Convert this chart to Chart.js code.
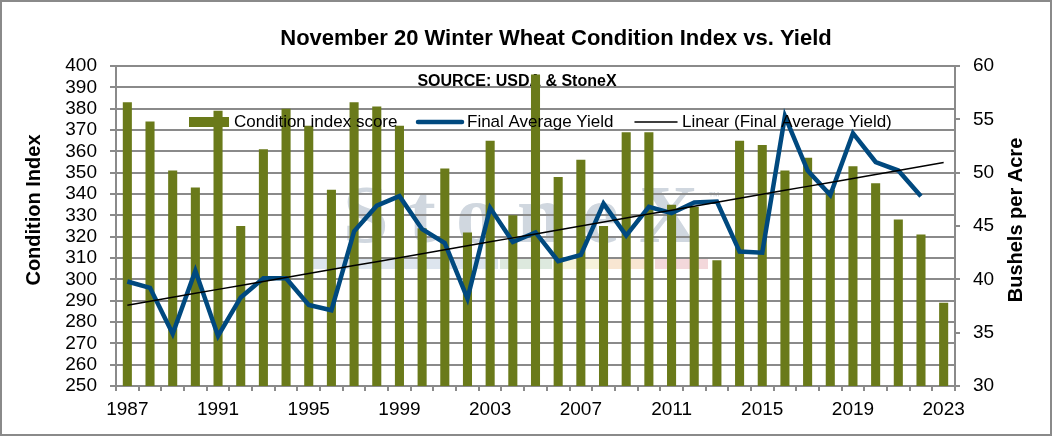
<!DOCTYPE html>
<html>
<head>
<meta charset="utf-8">
<title>Winter Wheat Condition Index vs. Yield</title>
<script src="https://cdn.jsdelivr.net/npm/chart.js@4.4.1/dist/chart.umd.min.js"></script>
<style>
  html, body { margin: 0; padding: 0; background: #fff; }
  #wrap { width: 1052px; height: 436px; }
</style>
</head>
<body>
<div id="wrap"><canvas id="chartcanvas"></canvas></div>
<script>
var categories = ["1987", "1988", "1989", "1990", "1991", "1992", "1993", "1994", "1995", "1996",
    "1997", "1998", "1999", "2000", "2001", "2002", "2003", "2004", "2005", "2006",
    "2007", "2008", "2009", "2010", "2011", "2012", "2013", "2014", "2015", "2016",
    "2017", "2018", "2019", "2020", "2021", "2022", "2023"];

// November 20 condition index score (left axis)
var conditionIndex = [383, 374, 351, 343, 379, 325, 361, 380, 372, 342,
    383, 381, 372, 324, 352, 322, 365, 330, 396, 348,
    356, 325, 369, 369, 335, 334, 309, 365, 363, 351,
    357, 342, 353, 345, 328, 321, 289];

// final average yield, bushels per acre (right axis), 2023 not known yet
var finalYield = [39.8, 39.2, 34.9, 40.8, 34.7, 38.3, 40.1, 40.1, 37.6, 37.1,
    44.5, 46.9, 47.8, 44.7, 43.4, 38.2, 46.7, 43.5, 44.4, 41.7,
    42.3, 47.1, 44.1, 46.8, 46.2, 47.2, 47.3, 42.6, 42.5, 55.3,
    50.2, 47.9, 53.7, 51.0, 50.2, 47.8, null];

var leftTicks = { min: 250, max: 400, step: 10 };
var rightTicks = { min: 30, max: 60, step: 5 };

var FONT = "'Liberation Sans', Arial, sans-serif";
var GRID = "#8a8a8a";
var BAR = "#6a7a1a";
var LINE = "#00497f";

// least squares fit of the yield, carried out to every category (Excel "Linear" trendline)
function linearTrend(values) {
    var n = 0, sx = 0, sy = 0, sxx = 0, sxy = 0;
    values.forEach(function (v, i) {
        if (v === null) return;
        n++; sx += i; sy += v; sxx += i * i; sxy += i * v;
    });
    var slope = (n * sxy - sx * sy) / (n * sxx - sx * sx);
    var icpt = (sy - slope * sx) / n;
    return values.map(function (v, i) { return +(icpt + slope * i).toFixed(3); });
}
var trendYield = linearTrend(finalYield);

var legendItems = [
    { text: "Condition index score", kind: "box", color: BAR, x: 189, w: 40 },
    { text: "Final Average Yield", kind: "line", color: LINE, lw: 4.5, x: 418, w: 44 },
    { text: "Linear (Final Average Yield)", kind: "line", color: "#000", lw: 1.5, x: 635, w: 42 }
];

var decorations = {
    id: "decorations",
    beforeDraw: function (chart) {
        var ctx = chart.ctx;
        ctx.save();
        ctx.fillStyle = "#fff";
        ctx.fillRect(0, 0, chart.width, chart.height);

        // faint StoneX watermark behind the plot
        ctx.fillStyle = "#d0d7df";
        ctx.font = "bold 82px 'Liberation Serif', 'DejaVu Serif', serif";
        ctx.textBaseline = "alphabetic";
        var word = "StoneX", x = 343, gap = 20;
        for (var i = 0; i < word.length; i++) {
            ctx.fillText(word[i], x, 242);
            x += ctx.measureText(word[i]).width + gap;
        }
        ctx.font = "12px " + FONT;
        ctx.fillText("\u2122", 708, 200);
        var stripe = [["#dde5ee", 305, 498], ["#dde9de", 500, 552], ["#f6f2da", 554, 606],
            ["#f8e6d2", 608, 653], ["#f3d8db", 655, 708]];
        stripe.forEach(function (s) {
            ctx.fillStyle = s[0];
            ctx.fillRect(s[1], 259, s[2] - s[1], 10);
        });
        ctx.restore();
    },
    beforeDatasetsDraw: function (chart) {
        var ctx = chart.ctx;
        ctx.save();
        ctx.fillStyle = "#000";
        ctx.font = "bold 16px " + FONT;
        ctx.textAlign = "center";
        ctx.textBaseline = "middle";
        ctx.fillText("SOURCE: USDA & StoneX", 517, 82);
        ctx.restore();
    },
    afterDatasetsDraw: function (chart) {
        var ctx = chart.ctx;
        ctx.save();
        ctx.font = "17px " + FONT;
        ctx.textBaseline = "middle";
        legendItems.forEach(function (it) {
            if (it.kind === "box") {
                ctx.fillStyle = it.color;
                ctx.fillRect(it.x, 117, it.w, 10);
            } else {
                ctx.strokeStyle = it.color;
                ctx.lineWidth = it.lw;
                ctx.lineCap = "round";
                ctx.beginPath();
                ctx.moveTo(it.x, 122);
                ctx.lineTo(it.x + it.w, 122);
                ctx.stroke();
            }
            ctx.fillStyle = "#000";
            ctx.fillText(it.text, it.x + it.w + 5, 122);
        });
        ctx.restore();
    },
    afterDraw: function (chart) {
        var ctx = chart.ctx;
        ctx.save();
        ctx.fillStyle = "#000";
        ctx.font = "bold 22px " + FONT;
        ctx.textAlign = "center";
        ctx.textBaseline = "middle";
        ctx.fillText("November 20 Winter Wheat Condition Index vs. Yield", 556, 39);

        ctx.font = "bold 20px " + FONT;
        ctx.save();
        ctx.translate(34, 210);
        ctx.rotate(-Math.PI / 2);
        ctx.fillText("Condition Index", 0, 0);
        ctx.restore();
        ctx.save();
        ctx.translate(1016, 220);
        ctx.rotate(-Math.PI / 2);
        ctx.fillText("Bushels per Acre", 0, 0);
        ctx.restore();
        ctx.restore();

        ctx.save();
        ctx.strokeStyle = GRID;
        ctx.lineWidth = 2;
        ctx.strokeRect(1, 1, chart.width - 2, chart.height - 2);
        ctx.restore();
    }
};

var ctx = document.getElementById("chartcanvas");

var chart = new Chart(ctx, {
    type: "bar",
    data: {
        labels: categories,
        datasets: [
            {
                label: "Condition index score",
                data: conditionIndex,
                backgroundColor: BAR,
                borderWidth: 0,
                barPercentage: 0.4,
                categoryPercentage: 1,
                yAxisID: "y",
                order: 3
            },
            {
                type: "line",
                label: "Final Average Yield",
                data: finalYield,
                borderColor: LINE,
                borderWidth: 4.5,
                pointRadius: 0,
                tension: 0,
                borderJoinStyle: "miter",
                spanGaps: false,
                yAxisID: "y2",
                order: 2
            },
            {
                type: "line",
                label: "Linear (Final Average Yield)",
                data: trendYield,
                borderColor: "#000",
                borderWidth: 1.5,
                pointRadius: 0,
                yAxisID: "y2",
                order: 1
            }
        ]
    },
    options: {
        responsive: true,
        maintainAspectRatio: false,
        animation: false,
        layout: { padding: { top: 66, left: 0, right: 0, bottom: 0 } },
        plugins: {
            legend: { display: false },
            title: { display: false },
            tooltip: { enabled: false }
        },
        scales: {
            x: {
                grid: { offset: true, drawOnChartArea: false, color: GRID, lineWidth: 2, tickLength: 5 },
                border: { color: GRID, width: 2 },
                ticks: {
                    autoSkip: false,
                    maxRotation: 0,
                    padding: 7,
                    color: "#000",
                    font: { family: FONT, size: 19 },
                    callback: function (v, i) { return i % 4 === 0 ? categories[i] : ""; }
                },
                afterFit: function (s) { s.height = 50; }
            },
            y: {
                position: "left",
                min: leftTicks.min,
                max: leftTicks.max,
                grid: { color: GRID, lineWidth: 2, tickLength: 6 },
                border: { color: GRID, width: 2 },
                ticks: {
                    stepSize: leftTicks.step,
                    autoSkip: false,
                    padding: 13,
                    color: "#000",
                    font: { family: FONT, size: 19, lineHeight: 1 }
                },
                afterFit: function (s) { s.width = 116; }
            },
            y2: {
                position: "right",
                min: rightTicks.min,
                max: rightTicks.max,
                grid: { drawOnChartArea: false, color: GRID, lineWidth: 2, tickLength: 5 },
                border: { color: GRID, width: 2 },
                ticks: {
                    stepSize: rightTicks.step,
                    autoSkip: false,
                    padding: 13,
                    color: "#000",
                    font: { family: FONT, size: 19 }
                },
                afterFit: function (s) { s.width = 97; }
            }
        }
    },
    plugins: [decorations]
});
</script>
</body>
</html>
